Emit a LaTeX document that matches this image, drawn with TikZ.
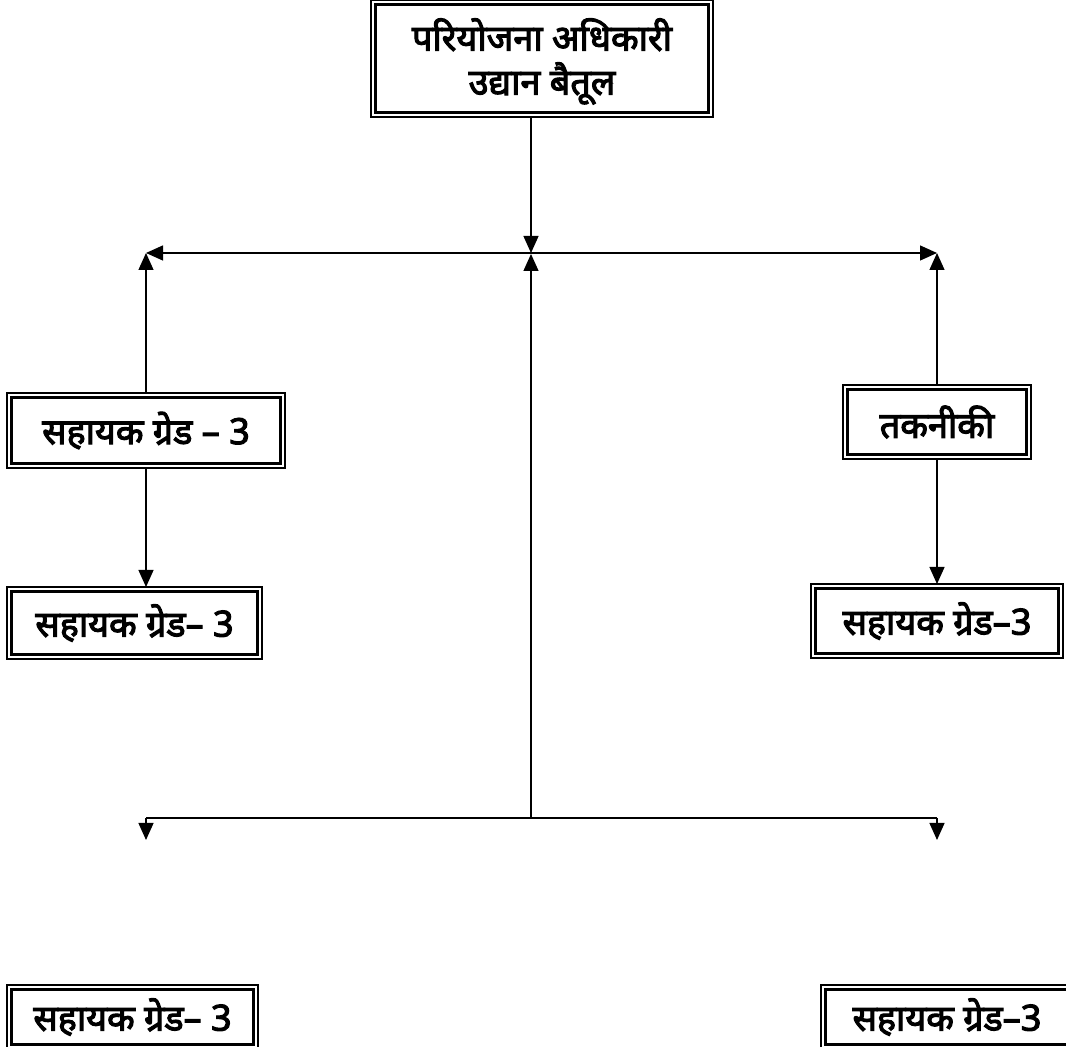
\documentclass[tikz,border=0pt]{standalone}
\usepackage{fontspec}
\newfontfamily\dev[Script=Devanagari,FakeBold=3]{Noto Sans}
\usetikzlibrary{arrows.meta}
\begin{document}
\begin{tikzpicture}[x=1pt,y=1pt,
  dbox/.style={draw, line width=1.2pt, inner sep=0pt, outer sep=0pt, align=center,
    font=\dev\fontsize{36}{44}\selectfont},
  conn/.style={line width=1.3pt},
  tip/.style={-{Triangle[length=17pt,width=15pt]}}]
\useasboundingbox (0,0) rectangle (1066,1047);
\fill[white] (0,0) rectangle (1066,1047);
% nodes
\node[dbox, minimum width=342, minimum height=117, text depth=4pt] (top) at (542,988.5) {परियोजना अधिकारी\\उद्यान बैतूल};
\node[dbox, minimum width=278, minimum height=75] (l1) at (146,616.5) {सहायक ग्रेड – 3};
\node[dbox, minimum width=188, minimum height=74] (r1) at (937,625) {तकनीकी};
\node[dbox, minimum width=255, minimum height=72] (l2) at (134.5,424) {सहायक ग्रेड– 3};
\node[dbox, minimum width=252, minimum height=74] (r2) at (937,426) {सहायक ग्रेड–3};
\node[dbox, minimum width=251, minimum height=64] (bl) at (132.5,30) {सहायक ग्रेड– 3};
\node[dbox, minimum width=252, minimum height=64] (br) at (947,30) {सहायक ग्रेड–3};
\foreach \n in {top,l1,r1,l2,r2,bl,br}
  \draw[line width=2.8pt] ([shift={(4.5,4.5)}]\n.south west) rectangle ([shift={(-4.5,-4.5)}]\n.north east);
% coordinates
\coordinate (hub) at (531,794);
\coordinate (hl) at (146,794);
\coordinate (hr) at (937,794);
\coordinate (hb) at (531,229);
\coordinate (bL) at (146,229);
\coordinate (bR) at (937,229);
\coordinate (eL) at (146,207);
\coordinate (eR) at (937,207);
% connectors
\draw[conn,tip] (top.south -| hub) -- (hub);
\draw[conn,{Triangle[length=17pt,width=15pt]}-{Triangle[length=17pt,width=15pt]}] (hl) -- (hr);
\draw[conn,tip] (l1.north) -- (hl);
\draw[conn,tip] (r1.north) -- (hr);
\draw[conn,tip] (hb) -- ([yshift=-1]hub);
\draw[conn,tip] (l1.south) -- (l1.south |- l2.north);
\draw[conn,tip] (r1.south) -- (r2.north);
\draw[conn] (bL) -- (bR);
\draw[conn,tip] (bL) -- (eL);
\draw[conn,tip] (bR) -- (eR);
\end{tikzpicture}
\end{document}
